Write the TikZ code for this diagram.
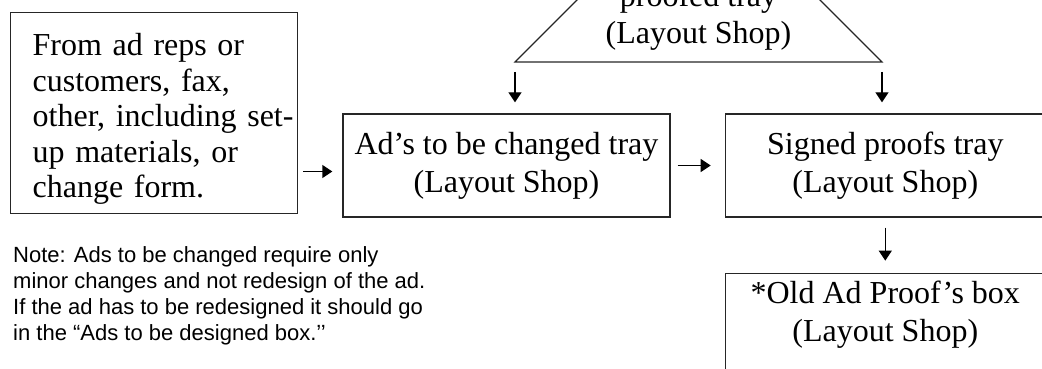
\documentclass[tikz,border=0pt]{standalone}
\usepackage{fontspec}
\setmainfont{Liberation Serif}
\newfontfamily\notefont{Liberation Sans}
\usetikzlibrary{arrows.meta, positioning}

\begin{document}
\begin{tikzpicture}[x=1pt,y=-1pt,>={Triangle[length=10pt,width=13pt]},
        every node/.style={font=\fontsize{32}{38}\selectfont},
        tray/.style={draw=black!85,line width=1.3pt,align=center,minimum height=103pt},
        flow/.style={->,line width=1.3pt}]
  \useasboundingbox (0,0) rectangle (1042,369);
  \clip (0,0) rectangle (1042,369);

  \node[tray,align=left,text width=243pt,inner xsep=22pt,minimum height=201pt,anchor=north west,
        font=\fontsize{32}{35.5}\selectfont] (src) at (10,12)
        {\rule{0pt}{34pt}From ad reps or\\customers, fax,\\\mbox{other, including set-}\\up materials, or\\change form.};
  \node[tray,minimum width=327pt] (chg) at (506.5,165.5) {Ad’s to be changed tray\\(Layout Shop)};
  \node[tray,minimum width=320pt,right=54pt of chg] (signed) {Signed proofs tray\\(Layout Shop)};
  \node[tray,minimum width=320pt,minimum height=140pt,below=55pt of signed] (old) {};
  \node[align=center,inner sep=0pt,below=8.5pt of old.north] (oldtxt) {*Old Ad Proof’s box\\(Layout Shop)};

  % proofed tray triangle, cut by the top of the page
  \coordinate (tl) at (515,62);
  \coordinate (tr) at (882,62);
  \draw[draw=black!85,line width=1.2pt] (tl) -- (698.5,-121.5) -- (tr) -- cycle;
  \node[align=center,font=\fontsize{32}{37}\selectfont] (prf) at (698.5,17) {proofed tray\\(Layout Shop)};

  \node[anchor=north west,align=left,inner sep=0pt,font=\notefont\fontsize{22}{26}\selectfont] (note) at (13,246)
        {Note: Ads to be changed require only\\minor changes and not redesign of the ad.\\If the ad has to be redesigned it should go\\in the “Ads to be designed box.’’};

  \draw[flow,shorten <=5pt,shorten >=10pt] ([yshift=-6pt]src.east |- chg.west) -- ([yshift=-6pt]chg.west);
  \draw[flow,shorten <=7pt,shorten >=14pt] (chg) -- (signed);
  \draw[flow,shorten <=10pt,shorten >=11pt] (tl) -- (tl |- chg.north);
  \draw[flow,shorten <=10pt,shorten >=11pt] (tr) -- (tr |- signed.north);
  \draw[flow,shorten <=10pt,shorten >=12pt] (signed) -- (old);
\end{tikzpicture}
\end{document}
